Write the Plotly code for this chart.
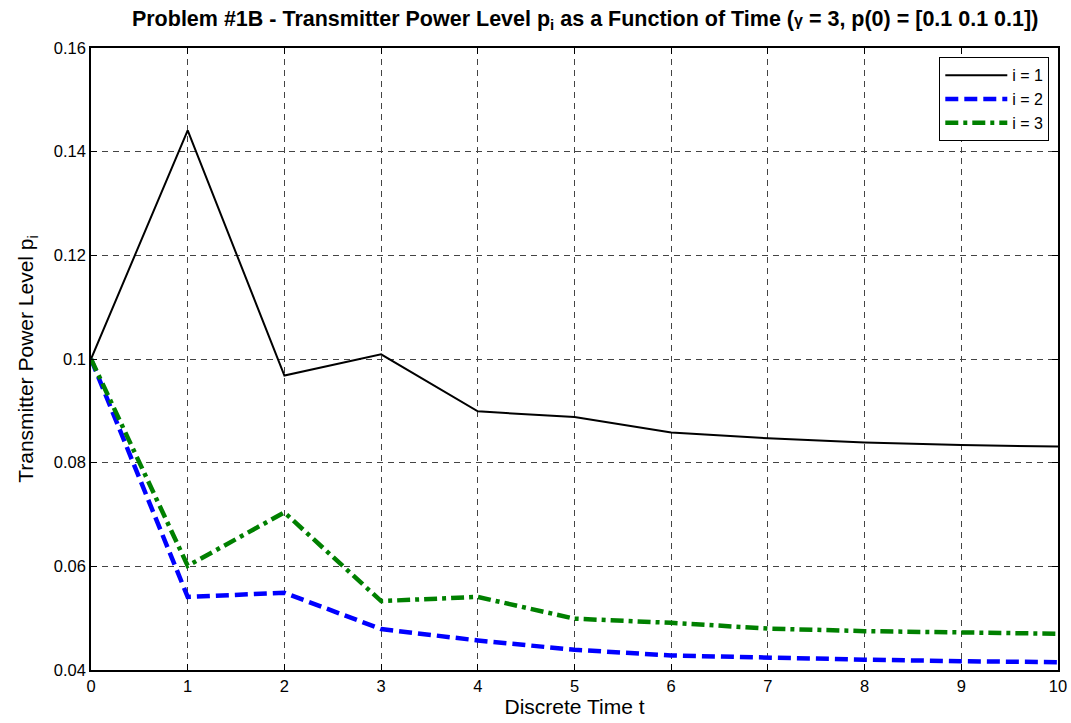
import plotly.graph_objects as go

# Discrete time steps and transmitter power levels for each transmitter i
t = [0, 1, 2, 3, 4, 5, 6, 7, 8, 9, 10]
p1 = [0.1000, 0.1441, 0.0968, 0.1009, 0.0899, 0.0888, 0.0858, 0.0847, 0.0839, 0.0834, 0.0831]
p2 = [0.1000, 0.0541, 0.0549, 0.0479, 0.0457, 0.0439, 0.0428, 0.0423, 0.0420, 0.0417, 0.0415]
p3 = [0.1000, 0.0601, 0.0704, 0.0533, 0.0541, 0.0499, 0.0491, 0.0480, 0.0475, 0.0473, 0.0470]

series_names = ["i = 1", "i = 2", "i = 3"]
x_ticks = [0, 1, 2, 3, 4, 5, 6, 7, 8, 9, 10]
y_ticks = [0.04, 0.06, 0.08, 0.1, 0.12, 0.14, 0.16]
y_tick_text = ["0.04", "0.06", "0.08", "0.1", "0.12", "0.14", "0.16"]

FONT = "Liberation Sans, Arial, sans-serif"

fig = go.Figure()
fig.add_trace(go.Scatter(x=t, y=p1, mode="lines", name=series_names[0],
                         line=dict(color="black", width=2, dash="solid")))
fig.add_trace(go.Scatter(x=t, y=p2, mode="lines", name=series_names[1],
                         line=dict(color="rgb(0,0,255)", width=4.5, dash="13px,6px")))
fig.add_trace(go.Scatter(x=t, y=p3, mode="lines", name=series_names[2],
                         line=dict(color="rgb(0,128,0)", width=4.5, dash="13px,5px,4px,5px")))

axis_common = dict(
    showline=True, linecolor="black", linewidth=1.5, mirror="ticks",
    ticks="inside", ticklen=6, tickcolor="black",
    showgrid=True, gridcolor="#444444", gridwidth=1, griddash="6px,5px",
    zeroline=False, automargin=False,
    tickfont=dict(family=FONT, size=16.5, color="black"),
)

fig.update_xaxes(range=[0, 10], tickvals=x_ticks,
                 title=dict(text="Discrete Time t", font=dict(family=FONT, size=21, color="black"),
                            standoff=4),
                 **axis_common)
fig.update_yaxes(range=[0.04, 0.16], tickvals=y_ticks, ticktext=y_tick_text,
                 title=dict(text="Transmitter Power Level p<sub>i</sub>",
                            font=dict(family=FONT, size=21, color="black"), standoff=14),
                 **axis_common)

fig.update_layout(
    width=1071, height=723,
    paper_bgcolor="white", plot_bgcolor="white",
    margin=dict(l=91, r=13, t=48, b=53),
    title=dict(
        text="<b>Problem #1B - Transmitter Power Level p<sub>i</sub> as a Function of Time "
             "(<span style='font-size:16px'>γ</span> = 3, p(0) = [0.1 0.1 0.1])</b>",
        font=dict(family=FONT, size=21.5, color="black"),
        x=0.511, xref="paper", xanchor="center", y=0.985, yanchor="top",
    ),
    legend=dict(
        x=0.991, xanchor="right", y=0.985, yanchor="top",
        bgcolor="white", bordercolor="black", borderwidth=1,
        font=dict(family=FONT, size=16, color="black"),
        tracegroupgap=0, itemwidth=62,
    ),
    showlegend=True,
)

fig.write_html("out.html")
